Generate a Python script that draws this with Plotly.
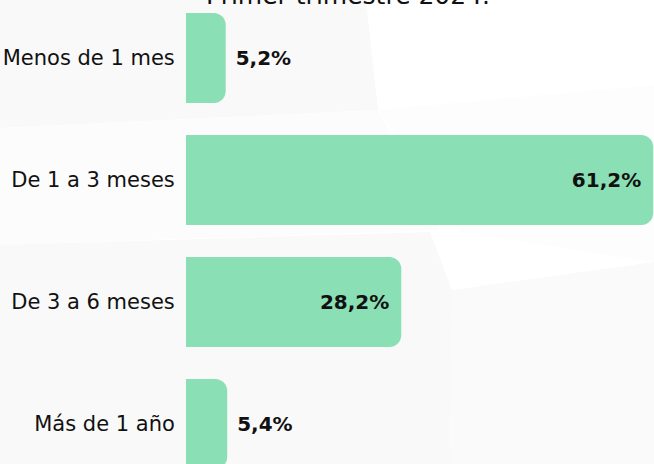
import plotly.graph_objects as go

categories = ["Menos de 1 mes", "De 1 a 3 meses", "De 3 a 6 meses", "Más de 1 año"]
values = [5.2, 61.2, 28.2, 5.4]
title_text = "Primer trimestre 2024."

W, H = 654, 464
ML = 186

def fmt(v):
    return f"{v:.1f}".replace(".", ",") + "%"

positions = ["outside" if v < 10 else "inside" for v in values]
labels = [("\u00a0" + fmt(v)) if p == "outside" else fmt(v) for v, p in zip(values, positions)]

bold = dict(family="DejaVu Sans", size=20, color="#111111", weight="bold")
fig = go.Figure(go.Bar(
    x=values, y=categories, orientation="h",
    marker=dict(color="#8adfb5", cornerradius=12, line=dict(width=0)),
    text=labels, textposition=positions, insidetextanchor="end",
    textfont=bold, outsidetextfont=bold, insidetextfont=bold,
    cliponaxis=False, width=0.738, hoverinfo="skip",
))

def P(pts):
    xs = [(x - ML) / (W - ML) for x, y in pts]
    ys = [1 - y / H for x, y in pts]
    return "M " + " L ".join(f"{a:.4f},{b:.4f}" for a, b in zip(xs, ys)) + " Z"

bg_polys = [
    ([(0, 0), (366, 0), (378, 110), (0, 128)], "#f9f9f9"),
    ([(0, 128), (378, 110), (440, 230), (0, 245)], "#fcfcfc"),
    ([(0, 245), (430, 232), (452, 290), (450, 464), (0, 464)], "#f9f9f9"),
    ([(452, 290), (654, 262), (654, 464), (450, 464)], "#fafafa"),
    ([(378, 110), (654, 85), (654, 262), (460, 232)], "#fdfdfd"),
]
shapes = [dict(type="path", xref="paper", yref="paper", path=P(pts),
               fillcolor=col, line=dict(width=0), layer="below")
          for pts, col in bg_polys]

fig.update_layout(
    width=W, height=H,
    margin=dict(l=ML, r=0, t=0, b=0),
    paper_bgcolor="#ffffff", plot_bgcolor="rgba(0,0,0,0)",
    showlegend=False,
    shapes=shapes,
    annotations=[dict(text=title_text, xref="paper", yref="paper",
                      x=(348 - ML) / (W - ML), y=1, xanchor="center", yanchor="bottom",
                      yshift=-12, showarrow=False,
                      font=dict(family="DejaVu Sans", size=25, color="#111111"))],
    xaxis=dict(range=[0, 61.3], visible=False, fixedrange=True),
    yaxis=dict(categoryorder="array", categoryarray=categories,
               range=[3.328, -0.475], showgrid=False, zeroline=False, showline=False,
               ticks="outside", ticklen=6, tickcolor="rgba(0,0,0,0)",
               tickfont=dict(family="DejaVu Sans", size=21, color="#111111")),
)

fig.write_html("out.html", config={"displayModeBar": False},
               post_script="document.body.style.margin='0';")
